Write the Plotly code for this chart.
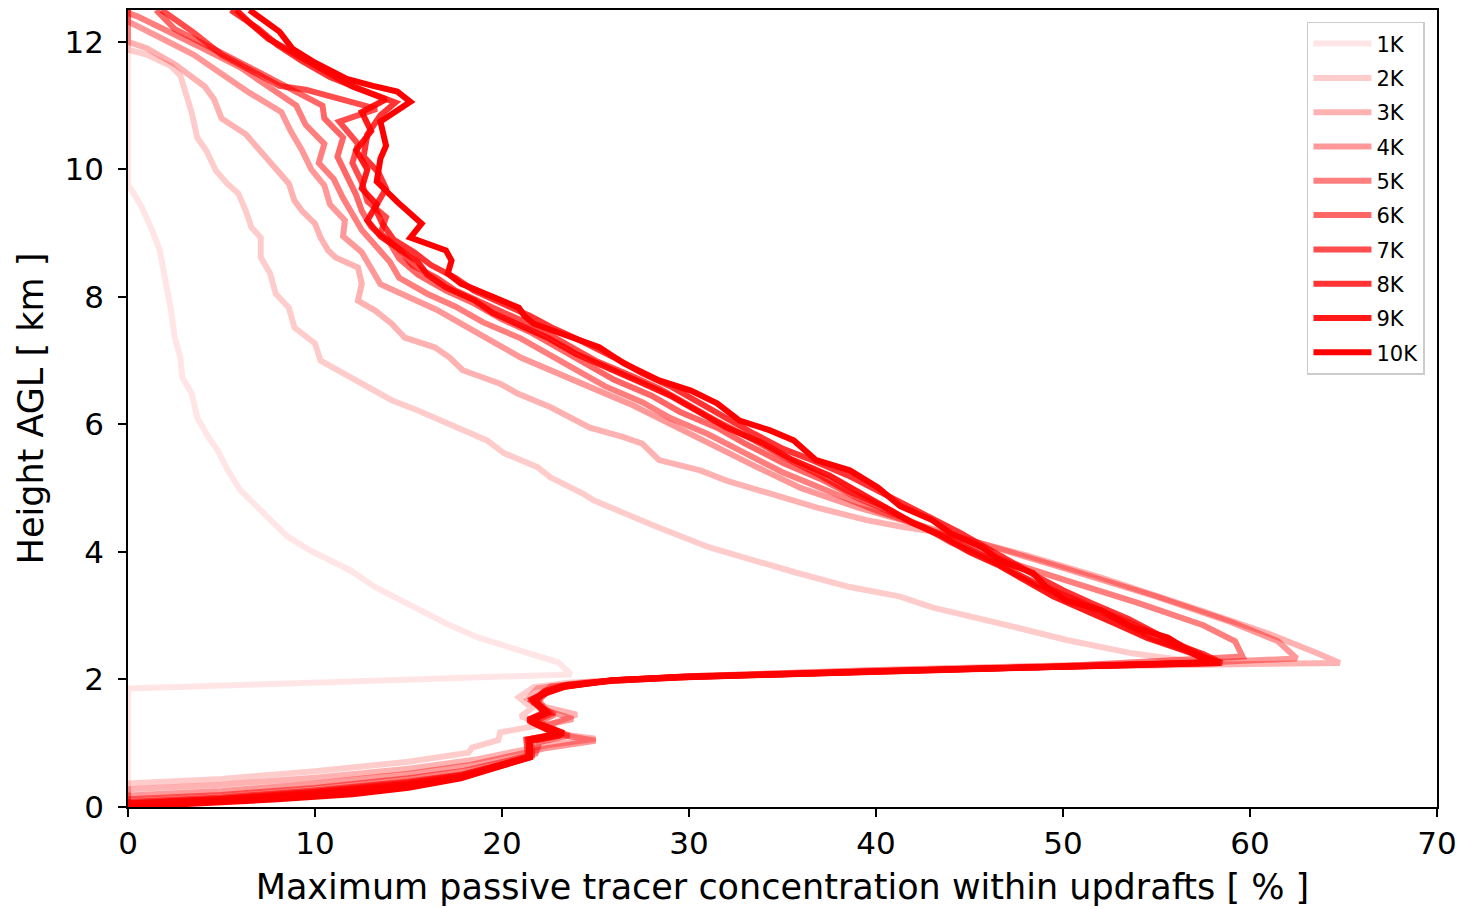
import plotly.graph_objects as go

# ---------------- data: (concentration %, height km) along each profile ----------------
labels = ["1K", "2K", "3K", "4K", "5K", "6K", "7K", "8K", "9K", "10K"]

pts_1K = [(0, 0), (0, 1.86), (12, 1.97), (23.7, 2.08), (23.0, 2.27), (21.0, 2.46), (18.7, 2.66),
          (17.0, 2.88), (14.6, 3.24), (13.2, 3.45), (11.9, 3.71), (9.7, 4.03), (8.5, 4.25),
          (7.6, 4.5), (6.8, 4.75), (6.0, 4.97), (5.3, 5.3), (4.8, 5.59), (4.3, 5.8), (3.7, 6.11),
          (3.4, 6.49), (2.9, 6.74), (2.8, 7.05), (2.5, 7.36), (2.3, 7.79), (2.0, 8.3), (1.7, 8.73),
          (1.3, 9.04), (0.7, 9.43), (0.2, 9.67), (0, 9.75), (0, 12.5)]

pts_2K = [(0, 0), (0, 0.37), (5, 0.44), (10, 0.56), (15, 0.71), (18.2, 0.85), (18.4, 0.93),
          (19.8, 1.05), (19.9, 1.17), (21.4, 1.25), (22.3, 1.3), (21.0, 1.42), (21.6, 1.55),
          (20.9, 1.72), (21.7, 1.88), (23.5, 1.95), (30, 2.04), (40, 2.13), (50, 2.2), (57.5, 2.26),
          (53.7, 2.41), (50.2, 2.62), (46.6, 2.88), (43.0, 3.13), (41.3, 3.3), (38.6, 3.45),
          (35.8, 3.67), (33.3, 3.87), (31.1, 4.07), (28.3, 4.39), (26.3, 4.65), (24.9, 4.81),
          (24.3, 4.92), (22.6, 5.17), (21.9, 5.33), (20.1, 5.55), (19.2, 5.75), (17.1, 6.02),
          (15.5, 6.22), (14.1, 6.38), (12.5, 6.64), (10.3, 7.0), (10.0, 7.27), (8.9, 7.52),
          (8.6, 7.83), (7.9, 8.05), (7.6, 8.37), (7.1, 8.62), (7.1, 8.93), (6.6, 9.09), (6.3, 9.35),
          (5.9, 9.62), (5.3, 9.78), (4.7, 9.98), (4.2, 10.29), (3.7, 10.5), (3.4, 10.9), (3.2, 11.1),
          (2.8, 11.47), (2.3, 11.62), (1.0, 11.8), (0, 11.88), (0, 12.5)]

pts_3K = [(0, 0), (0, 0.28), (5, 0.35), (10, 0.46), (15, 0.6), (18.5, 0.74), (20.5, 0.86),
          (22.5, 0.97), (25.0, 1.07), (23.0, 1.15), (22.6, 1.3), (24.0, 1.45), (22.4, 1.56),
          (21.4, 1.7), (21.9, 1.86), (24.5, 1.96), (30, 2.05), (40, 2.14), (50, 2.2), (60, 2.24),
          (64.8, 2.26), (63.6, 2.41), (60.9, 2.73), (57.3, 3.09), (52.0, 3.6), (48.0, 3.95),
          (45.7, 4.14), (43.5, 4.3), (41.3, 4.4), (39.5, 4.5), (36.8, 4.7), (34.2, 4.92),
          (32.0, 5.12), (30.6, 5.28), (28.4, 5.44), (27.5, 5.7), (26.5, 5.8), (24.7, 5.95),
          (22.6, 6.27), (20.8, 6.49), (19.9, 6.64), (17.9, 6.85), (17.2, 7.05), (16.4, 7.21),
          (14.8, 7.36), (14.1, 7.58), (13.2, 7.79), (12.3, 7.94), (12.5, 8.21), (12.3, 8.46),
          (11.1, 8.62), (10.7, 8.73), (10.3, 8.93), (10.0, 9.15), (9.3, 9.35), (8.9, 9.51),
          (8.6, 9.78), (8.0, 9.98), (7.1, 10.29), (6.3, 10.55), (5.0, 10.8), (4.6, 11.1),
          (4.1, 11.3), (2.5, 11.65), (1.0, 11.9), (0, 12.0), (0, 12.5)]

pts_4K = [(0, 0), (0, 0.18), (5, 0.25), (10, 0.37), (15, 0.52), (18.3, 0.66), (20.3, 0.79),
          (22.3, 0.92), (25.0, 1.04), (23.4, 1.12), (22.2, 1.28), (23.8, 1.38), (22.3, 1.52),
          (21.9, 1.72), (22.6, 1.89), (25.5, 1.97), (30, 2.05), (40, 2.15), (50, 2.22), (58, 2.27),
          (62.5, 2.33), (61.5, 2.6), (59.0, 2.9), (55.0, 3.3), (50.0, 3.75), (45.0, 4.2),
          (42.0, 4.45), (39.0, 4.7), (36.0, 5.0), (33.5, 5.35), (31.5, 5.65), (29.0, 6.0),
          (27.0, 6.3), (25.0, 6.55), (23.0, 6.8), (21.0, 7.05), (19.5, 7.3), (18.0, 7.55),
          (16.5, 7.8), (15.0, 8.0), (13.5, 8.2), (13.0, 8.45), (12.5, 8.7), (11.5, 8.95),
          (11.6, 9.2), (10.8, 9.45), (10.5, 9.75), (9.8, 10.0), (9.3, 10.3), (8.7, 10.6),
          (8.2, 10.9), (6.5, 11.2), (5.0, 11.5), (3.5, 11.8), (1.5, 12.1), (0.3, 12.28), (0, 12.32),
          (0, 12.5)]

pts_5K = [(0, 0), (0, 0.12), (5, 0.19), (10, 0.3), (15, 0.45), (18, 0.57), (20.2, 0.72),
          (21.8, 0.84), (22.0, 1.02), (23.6, 1.12), (21.8, 1.3), (22.8, 1.45), (21.8, 1.62),
          (22.4, 1.8), (23.5, 1.92), (26, 1.99), (30, 2.05), (40, 2.14), (50, 2.21), (59.6, 2.36),
          (59.2, 2.6), (57.5, 2.85), (54.0, 3.2), (50.2, 3.55), (47.0, 3.85), (44.5, 4.15),
          (42.5, 4.4), (40.0, 4.65), (37.5, 4.95), (35.0, 5.25), (33.0, 5.55), (31.0, 5.85),
          (29.0, 6.1), (27.5, 6.35), (25.5, 6.6), (24.0, 6.85), (22.5, 7.1), (21.0, 7.35),
          (19.0, 7.6), (17.5, 7.85), (16.0, 8.05), (14.5, 8.3), (14.0, 8.55), (13.2, 8.8),
          (12.5, 9.05), (12.0, 9.3), (11.5, 9.55), (11.0, 9.85), (10.2, 10.1), (10.5, 10.4),
          (9.5, 10.7), (9.0, 11.0), (7.5, 11.3), (6.0, 11.6), (4.0, 11.9), (2.0, 12.2),
          (0.5, 12.4), (0, 12.45), (0, 12.5)]

pts_6K = [(0, 0), (0, 0.08), (5, 0.15), (10, 0.26), (15, 0.4), (17.9, 0.51), (20, 0.67),
          (21.6, 0.8), (21.6, 1.03), (23.1, 1.12), (21.6, 1.33), (22.6, 1.46), (21.8, 1.65),
          (22.3, 1.82), (23.4, 1.91), (26, 1.99), (30, 2.04), (40, 2.13), (50, 2.2), (58.0, 2.27),
          (57.0, 2.45), (55.5, 2.65), (53.5, 2.9), (51.5, 3.15), (49.5, 3.4), (47.5, 3.65),
          (46.0, 3.9), (44.0, 4.15), (42.5, 4.4), (41.0, 4.6), (39.0, 4.85), (37.0, 5.15),
          (35.0, 5.4), (33.0, 5.7), (31.5, 5.95), (29.5, 6.2), (28.0, 6.45), (26.0, 6.7),
          (24.5, 6.95), (23.0, 7.2), (21.5, 7.45), (20.0, 7.65), (18.5, 7.9), (17.0, 8.1),
          (15.5, 8.35), (14.5, 8.6), (14.0, 8.85), (13.0, 9.1), (12.5, 9.35), (12.2, 9.6),
          (11.7, 9.9), (11.2, 10.2), (11.5, 10.5), (10.5, 10.8), (10.4, 11.0), (8.5, 11.3),
          (6.5, 11.6), (4.5, 11.9), (2.5, 12.2), (1.5, 12.5)]

pts_7K = [(0, 0), (0, 0.06), (5, 0.13), (10, 0.24), (15, 0.38), (17.8, 0.5), (19.9, 0.66),
          (21.4, 0.79), (21.3, 1.06), (22.9, 1.14), (21.4, 1.36), (22.3, 1.5), (21.6, 1.66),
          (22.2, 1.8), (23.2, 1.9), (25.8, 1.98), (30, 2.04), (40, 2.13), (50, 2.2), (58.3, 2.27),
          (57.0, 2.42), (55.0, 2.62), (53.8, 2.8), (52.5, 3.0), (50.5, 3.25), (48.5, 3.5),
          (47.0, 3.75), (45.5, 3.98), (44.0, 4.2), (42.0, 4.45), (40.5, 4.7), (38.5, 4.95),
          (37.0, 5.2), (35.0, 5.5), (33.5, 5.75), (31.5, 6.05), (30.0, 6.3), (28.5, 6.55),
          (27.0, 6.75), (25.0, 7.0), (23.5, 7.25), (22.0, 7.5), (20.5, 7.7), (19.0, 7.9),
          (17.5, 8.1), (16.5, 8.3), (15.2, 8.5), (14.5, 8.75), (13.5, 9.0), (13.8, 9.25),
          (12.8, 9.5), (12.5, 9.8), (12.0, 10.1), (12.3, 10.4), (11.3, 10.75), (13.3, 10.95),
          (11.5, 11.1), (9.5, 11.25), (8.1, 11.31), (6.5, 11.55), (5.0, 11.8), (3.5, 12.15),
          (2.5, 12.35), (1.8, 12.5)]

pts_8K = [(0, 0), (0, 0.05), (5, 0.12), (10, 0.22), (15, 0.36), (17.8, 0.48), (19.9, 0.64),
          (21.4, 0.77), (21.5, 1.04), (23.2, 1.13), (21.5, 1.34), (22.4, 1.48), (21.7, 1.68),
          (22.3, 1.8), (23.3, 1.89), (25.9, 1.98), (29.5, 2.03), (40, 2.13), (50, 2.2), (58.5, 2.26),
          (57.5, 2.4), (56.0, 2.55), (55.0, 2.72), (53.5, 2.95), (51.5, 3.2), (50.0, 3.4),
          (48.7, 3.6), (47.3, 3.82), (46.0, 4.05), (44.5, 4.3), (43.0, 4.52), (41.5, 4.75),
          (40.0, 4.98), (38.5, 5.2), (36.5, 5.45), (35.0, 5.62), (33.5, 5.85), (32.0, 6.1),
          (30.5, 6.35), (29.0, 6.6), (27.5, 6.8), (26.0, 7.05), (24.3, 7.3), (22.8, 7.5),
          (21.5, 7.7), (20.0, 7.9), (18.5, 8.1), (17.5, 8.3), (16.2, 8.5), (15.3, 8.7),
          (14.2, 8.9), (13.6, 9.15), (13.2, 9.4), (13.8, 9.7), (13.4, 9.95), (12.6, 10.2),
          (12.8, 10.55), (13.5, 10.85), (14.3, 11.05), (12.5, 11.25), (10.8, 11.45), (9.3, 11.7),
          (8.0, 11.95), (7.0, 12.2), (5.5, 12.5)]

pts_9K = [(0, 0), (5, 0.1), (10, 0.2), (15, 0.34), (17.8, 0.46), (19.9, 0.66), (21.5, 0.78),
          (21.4, 1.06), (23.0, 1.15), (21.4, 1.37), (22.3, 1.47), (21.6, 1.69), (22.3, 1.79),
          (23.3, 1.89), (25.9, 1.99), (29.5, 2.04), (40, 2.13), (50, 2.2), (58.2, 2.27),
          (56.5, 2.45), (54.5, 2.65), (53.0, 2.85), (51.5, 3.05), (49.5, 3.3), (48.0, 3.55),
          (46.5, 3.8), (45.0, 4.0), (43.5, 4.25), (42.0, 4.45), (40.5, 4.7), (39.0, 4.95),
          (37.5, 5.2), (35.5, 5.45), (34.0, 5.7), (32.0, 5.95), (30.5, 6.2), (29.0, 6.45),
          (27.5, 6.65), (26.0, 6.85), (24.0, 7.1), (22.5, 7.35), (21.0, 7.55), (19.5, 7.75),
          (18.5, 7.95), (17.0, 8.15), (16.0, 8.35), (15.5, 8.55), (14.5, 8.75), (13.5, 8.95),
          (12.8, 9.2), (13.3, 9.45), (12.5, 9.7), (12.8, 10.0), (12.2, 10.3), (13.0, 10.6),
          (12.5, 10.9), (13.8, 11.1), (12.0, 11.3), (10.5, 11.55), (9.0, 11.8), (7.5, 12.05),
          (6.5, 12.3), (5.8, 12.5)]

pts_10K = [(0, 0), (3, 0.04), (8, 0.12), (12, 0.2), (15, 0.3), (17.8, 0.45), (19.9, 0.65),
           (21.5, 0.78), (21.5, 1.05), (23.3, 1.16), (21.5, 1.36), (22.4, 1.47), (21.7, 1.68),
           (22.4, 1.79), (23.3, 1.88), (25.9, 1.99), (29.5, 2.04), (35, 2.09), (40, 2.13),
           (45, 2.17), (50, 2.2), (55, 2.23), (58.4, 2.26), (57.3, 2.35), (56.4, 2.51), (55.6, 2.66),
           (53.7, 2.82), (52.0, 3.09), (50.2, 3.24), (49.1, 3.45), (48.4, 3.67), (46.6, 3.87),
           (45.7, 4.07), (44.0, 4.29), (43.0, 4.5), (41.3, 4.72), (40.1, 5.01), (38.6, 5.28),
           (36.8, 5.44), (35.6, 5.75), (34.3, 5.91), (32.7, 6.06), (31.5, 6.33), (30.1, 6.53),
           (28.4, 6.69), (26.5, 6.96), (25.2, 7.21), (23.8, 7.36), (21.7, 7.58), (21.2, 7.7),
           (20.9, 7.83), (19.6, 7.99), (17.8, 8.21), (17.1, 8.37), (17.3, 8.57), (17.0, 8.73),
           (15.1, 8.93), (15.7, 9.15), (15.2, 9.27), (14.4, 9.49), (13.3, 9.81), (13.5, 10.17),
           (13.8, 10.37), (13.5, 10.75), (15.1, 11.06), (14.4, 11.22), (13.1, 11.31),
           (11.7, 11.42), (9.9, 11.69), (8.8, 11.89), (8.1, 12.16), (7.2, 12.35), (6.5, 12.5)]

profiles = [pts_1K, pts_2K, pts_3K, pts_4K, pts_5K, pts_6K, pts_7K, pts_8K, pts_9K, pts_10K]
x_ticks = [0, 10, 20, 30, 40, 50, 60, 70]
y_ticks = [0, 2, 4, 6, 8, 10, 12]

FONT = "DejaVu Sans"

fig = go.Figure()
for i, (lab, pts) in enumerate(zip(labels, profiles)):
    alpha = (i + 1) / 10
    fig.add_trace(go.Scatter(
        x=[p[0] for p in pts], y=[p[1] for p in pts],
        mode="lines", name=lab, legendgroup=lab,
        line=dict(color=f"rgba(255,0,0,{alpha:.1f})", width=6),
        hoverinfo="skip",
    ))

fig.update_layout(
    width=1467, height=909,
    margin=dict(l=128, r=30, t=8, b=102),
    paper_bgcolor="white", plot_bgcolor="white",
    font=dict(family=FONT, color="black"),
    showlegend=True,
    legend=dict(
        x=0.9908, xanchor="right", y=0.985, yanchor="top",
        bgcolor="rgba(255,255,255,0.8)", bordercolor="#cccccc", borderwidth=1.5,
        font=dict(family=FONT, size=21, color="black"),
        tracegroupgap=4, itemwidth=58,
    ),
    xaxis=dict(
        range=[0, 70], tickmode="array", tickvals=x_ticks,
        ticks="outside", ticklen=8, tickwidth=1.5, tickcolor="black",
        showline=True, linecolor="black", linewidth=1.5, mirror=True,
        showgrid=False, zeroline=False,
        tickfont=dict(family=FONT, size=31),
        ticklabelstandoff=0,
        title=dict(text="Maximum passive tracer concentration within updrafts [ % ]",
                   font=dict(family=FONT, size=35), standoff=15),
    ),
    yaxis=dict(
        range=[0, 12.5], tickmode="array", tickvals=y_ticks,
        ticks="outside", ticklen=8, tickwidth=1.5, tickcolor="black",
        showline=True, linecolor="black", linewidth=1.5, mirror=True,
        showgrid=False, zeroline=False,
        tickfont=dict(family=FONT, size=31),
        ticklabelstandoff=8,
        title=dict(text="Height AGL [ km ]", font=dict(family=FONT, size=35), standoff=10),
    ),
)

fig.write_html("out.html", config={"displayModeBar": False},
               post_script="document.body.style.margin='0';")
